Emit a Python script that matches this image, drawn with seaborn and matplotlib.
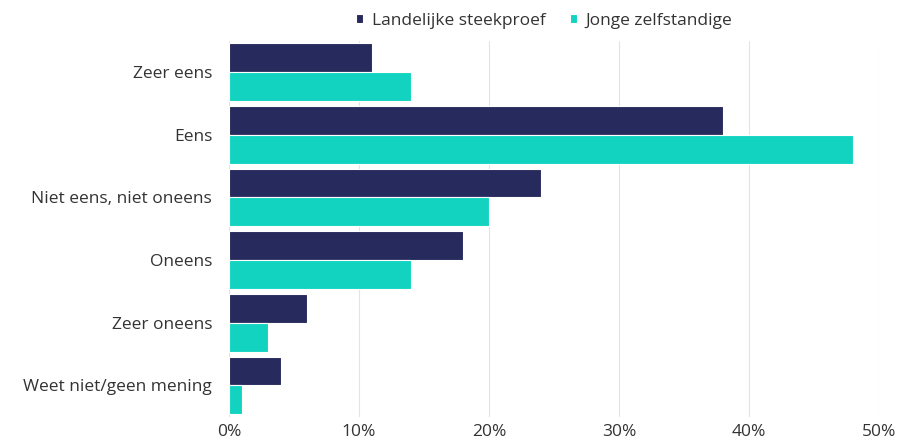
import pandas as pd
import matplotlib.pyplot as plt
import seaborn as sns
from matplotlib.ticker import PercentFormatter

# Data
categorieen = ["Zeer eens", "Eens", "Niet eens, niet oneens", "Oneens",
               "Zeer oneens", "Weet niet/geen mening"]
landelijk = [11, 38, 24, 18, 6, 4]
jonge_zzp = [14, 48, 20, 14, 3, 1]
reeksen = ["Landelijke steekproef", "Jonge zelfstandige"]

df = pd.DataFrame({
    "categorie": categorieen * 2,
    "reeks": [reeksen[0]] * len(categorieen) + [reeksen[1]] * len(categorieen),
    "waarde": landelijk + jonge_zzp,
})

sns.set_style("white")
plt.rcParams["font.family"] = ["Open Sans", "DejaVu Sans"]
plt.rcParams["text.color"] = "#333333"

fig = plt.figure(figsize=(9.01, 4.42), dpi=100)
ax = fig.add_axes([0.254, 0.057, 0.7215, 0.851])

sns.barplot(data=df, y="categorie", x="waarde", hue="reeks", orient="h",
            palette=["#272a5c", "#12d3c0"], saturation=1, width=0.92, ax=ax,
            edgecolor="white", linewidth=0.8, legend=True)

ax.set_xlim(0, 50)
ax.set_xticks(range(0, 51, 10))
ax.xaxis.set_major_formatter(PercentFormatter(decimals=0))
ax.grid(axis="x", color="#e3e3e3", linewidth=0.8)
ax.set_axisbelow(True)
for s in ax.spines.values():
    s.set_visible(False)
ax.set_xlabel("")
ax.set_ylabel("")
ax.tick_params(axis="both", length=0, labelsize=12.5, colors="#333333")
ax.tick_params(axis="y", pad=12)
ax.tick_params(axis="x", pad=5)

handles, labels = ax.get_legend_handles_labels()
ax.legend(handles, labels, loc="upper center", bbox_to_anchor=(0.485, 1.115),
          ncol=2, frameon=False, fontsize=12.5, handlelength=0.4,
          handleheight=0.4, handletextpad=0.5, columnspacing=1.4)

fig.savefig("out.png", dpi=100)
